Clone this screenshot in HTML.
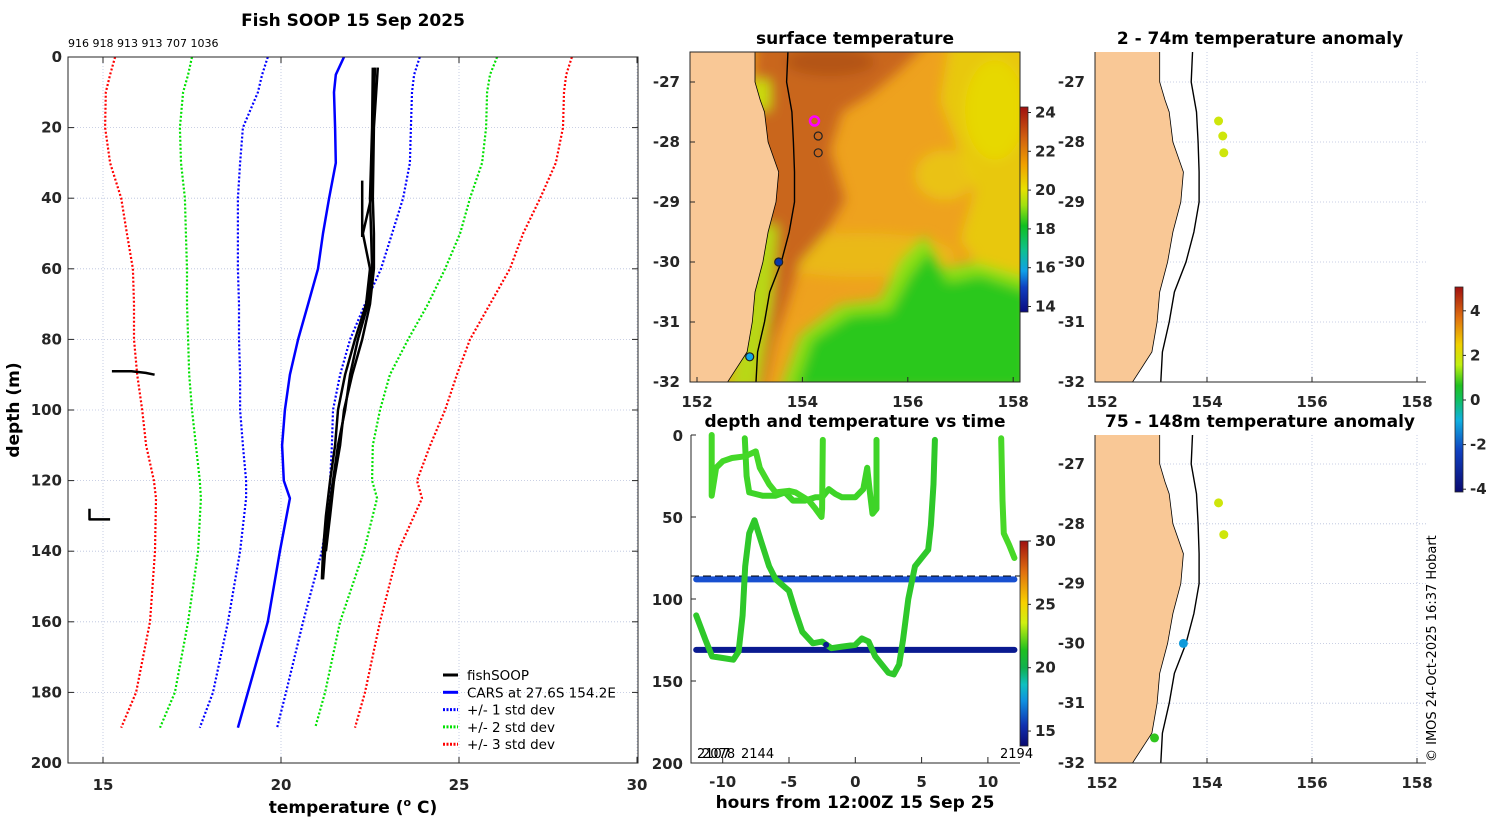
<!DOCTYPE html>
<html><head><meta charset="utf-8">
<style>
html,body{margin:0;padding:0;background:#fff;}
svg{display:block;font-family:"DejaVu Sans","Liberation Sans",sans-serif;}
.tk{font-size:15px;font-weight:bold;fill:#262626;}
.ttl{font-size:17px;font-weight:bold;fill:#000;}
</style></head>
<body>
<svg id="fig" width="1500" height="820" viewBox="0 0 1500 820" xmlns="http://www.w3.org/2000/svg">
<defs>
 <filter id="blur6" x="-20%" y="-20%" width="140%" height="140%"><feGaussianBlur stdDeviation="6"/></filter>
 <clipPath id="c1"><rect x="690" y="52" width="330" height="330"/></clipPath>
 <clipPath id="c2"><rect x="1095" y="52" width="331" height="330"/></clipPath>
 <clipPath id="c3"><rect x="1095" y="435" width="331" height="328"/></clipPath>
 <clipPath id="cm"><rect x="68" y="57" width="570" height="706"/></clipPath>
 <linearGradient id="gsst" x1="0" y1="1" x2="0" y2="0">
  <stop offset="0" stop-color="#0a0a80"/><stop offset="0.12" stop-color="#1040c0"/><stop offset="0.2" stop-color="#10a0e8"/>
  <stop offset="0.3" stop-color="#10c090"/><stop offset="0.42" stop-color="#10c020"/><stop offset="0.52" stop-color="#a0e010"/>
  <stop offset="0.6" stop-color="#e8e000"/><stop offset="0.72" stop-color="#f0a000"/><stop offset="0.85" stop-color="#d06010"/><stop offset="1" stop-color="#a01010"/>
 </linearGradient>
 <linearGradient id="gtime" x1="0" y1="1" x2="0" y2="0">
  <stop offset="0" stop-color="#0a0a70"/><stop offset="0.1" stop-color="#1030b0"/><stop offset="0.22" stop-color="#1090e0"/>
  <stop offset="0.3" stop-color="#10c0c0"/><stop offset="0.38" stop-color="#10b050"/><stop offset="0.47" stop-color="#20c020"/>
  <stop offset="0.6" stop-color="#d0f010"/><stop offset="0.7" stop-color="#f8d000"/><stop offset="0.85" stop-color="#e07010"/><stop offset="1" stop-color="#a01010"/>
 </linearGradient>
 <linearGradient id="ganom" x1="0" y1="1" x2="0" y2="0">
  <stop offset="0" stop-color="#0a0a70"/><stop offset="0.2" stop-color="#1040c0"/><stop offset="0.35" stop-color="#10b0e0"/>
  <stop offset="0.45" stop-color="#10c060"/><stop offset="0.52" stop-color="#20c020"/><stop offset="0.62" stop-color="#c0f010"/>
  <stop offset="0.72" stop-color="#f0d000"/><stop offset="0.85" stop-color="#e07010"/><stop offset="1" stop-color="#a01010"/>
 </linearGradient>
</defs>

<text class="ttl" x="353" y="26" text-anchor="middle">Fish SOOP 15 Sep 2025</text>
<text x="68" y="47" font-size="11" fill="#000">916 918 913 913 707 1036</text>
<text class="ttl" x="855" y="44" text-anchor="middle">surface temperature</text>
<text class="ttl" x="1260" y="44" text-anchor="middle">2 - 74m temperature anomaly</text>
<text class="ttl" x="855" y="427" text-anchor="middle">depth and temperature vs time</text>
<text class="ttl" x="1260" y="427" text-anchor="middle">75 - 148m temperature anomaly</text>
<text class="ttl" x="353" y="813" text-anchor="middle">temperature (<tspan font-size="11" dy="-7">o</tspan><tspan dy="7"> C)</tspan></text>
<text class="ttl" transform="translate(19,410) rotate(-90)" text-anchor="middle">depth (m)</text>
<text class="ttl" x="855" y="808" text-anchor="middle">hours from 12:00Z 15 Sep 25</text>
<text transform="translate(1436,762) rotate(-90)" font-size="13" fill="#000">© IMOS 24-Oct-2025 16:37 Hobart</text>

<g id="main"></g>
<g id="sst">
 <g clip-path="url(#c1)">
  <rect x="690" y="52" width="330" height="330" fill="#eea21e"/>
  <g filter="url(#blur6)">
   <polygon points="950,40 1030,40 1030,300 990,280 960,240 975,190 955,140 940,100" fill="#e8c810"/>
   <ellipse cx="995" cy="110" rx="30" ry="50" fill="#e6dc00" opacity="0.8"/>
   <ellipse cx="945" cy="175" rx="30" ry="25" fill="#e8d010" opacity="0.7"/>
   <ellipse cx="860" cy="255" rx="95" ry="22" fill="#e8c810" opacity="0.6"/>
   <polygon points="756,40 930,40 900,70 870,95 842,112 830,150 845,200 826,232 800,262 788,302 774,342 764,390 740,390" fill="#c9661c"/>
   <ellipse cx="830" cy="62" rx="45" ry="14" fill="#b45416"/>
   <polygon points="780,390 800,335 840,305 880,300 900,260 925,235 942,268 975,262 1030,278 1030,390" fill="#8ee014"/>
   <polygon points="795,390 812,340 850,315 890,312 910,275 930,250 948,282 980,275 1030,292 1030,390" fill="#2ac81e"/>
   <polygon points="752,225 778,225 772,300 758,390 728,390 748,300" fill="#b8d814"/>
   <polygon points="752,80 770,80 770,110 752,110" fill="#c8e010"/>
  </g>
  <polygon id="land1" fill="#f9c896" stroke="#000" stroke-width="0.8"/>
  <polyline id="shelf1" fill="none" stroke="#000" stroke-width="1.4"/>
 </g>
 <g id="sstpts"></g>
 <rect x="690" y="52" width="330" height="330" fill="none" stroke="#262626" stroke-width="1"/>
</g>
<g id="map2"></g>
<g id="map3"></g>
<g id="time"></g>
<g id="cbars"></g>
</svg>

<script>
const depthLevels = [0,5,10,20,30,40,50,60,70,80,90,100,110,120,125,140,160,180,190];
const redLo   = [15.34,15.20,15.08,15.06,15.20,15.51,15.67,15.84,15.87,15.87,15.96,16.10,16.21,16.43,16.49,16.46,16.32,15.93,15.51];
const greenLo = [17.50,17.39,17.25,17.16,17.19,17.30,17.33,17.36,17.36,17.39,17.42,17.50,17.61,17.72,17.75,17.67,17.39,17.02,16.60];
const blueLo  = [19.63,19.47,19.35,18.93,18.85,18.79,18.79,18.79,18.82,18.82,18.85,18.85,18.93,19.02,19.02,18.85,18.51,18.09,17.72];
const carsMean= [21.77,21.54,21.49,21.52,21.54,21.35,21.18,21.04,20.76,20.48,20.25,20.11,20.03,20.08,20.25,19.97,19.63,19.07,18.79];
const blueHi  = [23.90,23.74,23.68,23.65,23.62,23.43,23.12,22.81,22.36,21.94,21.66,21.46,21.43,21.38,21.38,21.15,20.62,20.14,19.89];
const greenHi = [26.07,25.87,25.79,25.76,25.65,25.31,25.03,24.61,24.13,23.57,23.06,22.78,22.58,22.56,22.70,22.33,21.66,21.24,20.96];
const redHi   = [28.17,28.01,27.95,27.92,27.72,27.28,26.80,26.43,25.87,25.31,24.94,24.61,24.19,23.82,23.96,23.29,22.78,22.36,22.08];
const fishDepths = [3,20,40,50,60,70,80,90,100,110,120,130,140,148];
const fishCast1 = [22.58,22.56,22.50,22.53,22.56,22.44,22.16,21.94,21.80,21.60,21.46,21.32,21.24,21.18];
const fishCast2 = [22.64,22.58,22.53,22.30,22.50,22.39,22.08,21.80,21.60,21.52,21.38,21.26,21.18,21.15];
const fishCast3 = [22.72,22.61,22.58,22.61,22.61,22.50,22.28,22.00,21.77,21.66,21.49,21.38,21.26];
const fishCast4Depth = [35,51];
const fishCast4 = [22.28,22.28];
const fishSeg1Depth = [89,89,89.5,90];
const fishSeg1 = [15.25,15.8,16.2,16.45];
const fishSeg2Depth = [128,131,131];
const fishSeg2 = [14.62,14.62,15.2];
const tempTicks = [15,20,25,30];
const depthTicks = [0,20,40,60,80,100,120,140,160,180,200];

const coastLat = [-26.4,-27,-27.3,-27.5,-28,-28.5,-29,-29.5,-30,-30.5,-31,-31.5,-32,-32.1];
const coastLon = [153.10,153.10,153.20,153.28,153.35,153.55,153.50,153.35,153.25,153.10,153.05,152.95,152.58,152.55];
const shelfLat = [-26.4,-27,-27.5,-28,-28.5,-29,-29.5,-30,-30.5,-31,-31.5,-32,-32.1];
const shelfLon = [153.73,153.70,153.80,153.83,153.85,153.85,153.75,153.60,153.38,153.28,153.15,153.12,153.12];
const lonTicks = [152,154,156,158];
const latTicks = [-27,-28,-29,-30,-31,-32];
const sstPtLon = [154.23,154.30,154.30,153.55,153.00];
const sstPtLat = [-27.65,-27.90,-28.18,-30.00,-31.58];
const sstPtFill = ['none','none','none','#0838a8','#10a8e8'];
const sstPtStroke = ['#ff00ff','#222','#222','#222','#222'];
const shallowLon = [154.22,154.30,154.32];
const shallowLat = [-27.65,-27.90,-28.18];
const shallowAnom = [1.3,1.3,1.3];
const deepLon = [154.22,154.32,153.55,153.00];
const deepLat = [-27.65,-28.18,-30.00,-31.58];
const deepAnom = [1.3,1.3,-1.2,0.1];

const trace1Hours = [-10.83,-10.83,-10.5,-10,-9.3,-8.3,-7.5,-7.2,-6.5,-6,-5,-4.5,-3.5,-3,-2.55,-2.5,-2.45];
const trace1Depth = [0,37,20,16,14,13,10,20,30,35,34,35,40,45,50,45,3];
const trace2Hours = [-8.33,-8.2,-8,-7,-6,-5.3,-4.7,-3.8,-3,-2.5,-2,-1.5,-1,0,0.6,0.9,1.1,1.3,1.6,1.6];
const trace2Depth = [2,25,35,37,37,35,40,40,38,38,33,36,38,38,33,20,35,48,45,3];
const trace3Hours = [-12,-11.3,-10.8,-10,-9.2,-8.8,-8.5,-8.3,-8,-7.6,-7.1,-6.5,-6,-5,-4.5,-4,-3.2,-2.5,-1.8,-1,0,0.5,1,1.5,2.5,2.9,3.3,3.6,4,4.5,5,5.5,5.7,5.9,6];
const trace3Depth = [110,125,135,136,137,132,110,80,60,52,65,80,88,95,108,120,127,126,130,129,128,124,126,135,145,146,140,125,100,80,75,70,55,30,3];
const trace4Hours = [11.0,11.1,11.2,11.6,12];
const trace4Depth = [2,40,60,67,75];
const mooringDepths = [88,131];
const mooringColors = ['#1850d0','#0a1a90'];
const hourTicks = [-10,-5,0,5,10];
const timeDepthTicks = [0,50,100,150,200];

const NS='http://www.w3.org/2000/svg';
function mk(tag, attrs, parent){const e=document.createElementNS(NS,tag);for(const k in attrs)e.setAttribute(k,attrs[k]);parent.appendChild(e);return e;}
function txt(parent,x,y,s,cls,anchor){const t=mk('text',{x:x,y:y,'class':cls||'tk','text-anchor':anchor||'middle'},parent);t.textContent=s;return t;}

const M = document.getElementById('main');
const px = t => 67.4 + (t-14)*35.6;
const py = d => 57 + d*3.53;
for(const t of tempTicks){
  const g=mk('line',{x1:px(t),x2:px(t),y1:57,y2:763,stroke:'#b8c0dc','stroke-width':0.8,'stroke-dasharray':'1,2'},M);
  
  
  const lb=txt(M,px(t),790,String(t));
  
  
  mk('line',{x1:px(t),x2:px(t),y1:763,y2:757,stroke:'#262626'},M);
  mk('line',{x1:px(t),x2:px(t),y1:57,y2:63,stroke:'#262626'},M);
}
for(const d of depthTicks){
  const g=mk('line',{x1:68,x2:638,y1:py(d),y2:py(d),stroke:'#b8c0dc','stroke-width':0.8,'stroke-dasharray':'1,2'},M);
  
  
  const lb=txt(M,62,py(d)+5,String(d),'tk','end');
  
  
  mk('line',{x1:68,x2:74,y1:py(d),y2:py(d),stroke:'#262626'},M);
  mk('line',{x1:638,x2:632,y1:py(d),y2:py(d),stroke:'#262626'},M);
}
const cm = mk('g',{'clip-path':'url(#cm)'},M);
function prof(temps, depths, color, w, dash, name){
  const pts=temps.map((t,i)=>px(t).toFixed(1)+','+py(depths[i]).toFixed(1)).join(' ');
  const p=mk('polyline',{points:pts,fill:'none',stroke:color,'stroke-width':w,'stroke-linejoin':'round'},cm);
  if(dash) p.setAttribute('stroke-dasharray',dash);
  
  
}
prof(redLo,depthLevels,'#ff0000',2.2,'2,2','minus-3-std-line');
prof(greenLo,depthLevels,'#00e000',2.2,'2,2','minus-2-std-line');
prof(blueLo,depthLevels,'#0000ff',2.2,'2,2','minus-1-std-line');
prof(carsMean,depthLevels,'#0000ff',2.5,null,'cars-mean-line');
prof(blueHi,depthLevels,'#0000ff',2.2,'2,2','plus-1-std-line');
prof(greenHi,depthLevels,'#00e000',2.2,'2,2','plus-2-std-line');
prof(redHi,depthLevels,'#ff0000',2.2,'2,2','plus-3-std-line');
prof(fishCast1,fishDepths,'#000',2.5,null,'fishsoop-cast-1');
prof(fishCast2,fishDepths,'#000',2.5,null,'fishsoop-cast-2');
prof(fishCast3,fishDepths.slice(0,fishCast3.length),'#000',2.5,null,'fishsoop-cast-3');
prof(fishCast4,fishCast4Depth,'#000',2.5,null,'fishsoop-cast-4');
prof(fishSeg1,fishSeg1Depth,'#000',2.5,null,'fishsoop-segment-1');
prof(fishSeg2,fishSeg2Depth,'#000',2.5,null,'fishsoop-segment-2');
mk('rect',{x:68,y:57,width:570,height:706,fill:'none',stroke:'#262626','stroke-width':1},M);
const legItems=[['fishSOOP','#000',null,3],['CARS at 27.6S 154.2E','#0000ff',null,3],['+/- 1 std dev','#0000ff','2,1.5',3],['+/- 2 std dev','#00e000','2,1.5',3],['+/- 3 std dev','#ff0000','2,1.5',3]];
const legG=mk('g',{},M);


legItems.forEach((it,i)=>{
  const y=675+i*17.3;
  const l=mk('line',{x1:443,x2:458,y1:y,y2:y,stroke:it[1],'stroke-width':it[3]},legG);
  if(it[2]) l.setAttribute('stroke-dasharray',it[2]);
  const t=mk('text',{x:467,y:y+5,'font-size':'13.5',fill:'#000'},legG);
  t.textContent=it[0];
  
  
});

function mapAxes(G, x0, lonX, latY, yTop, yBot, grid){
  for(const lon of lonTicks){
    const x=lonX(lon);
    if(grid){const g=mk('line',{x1:x,x2:x,y1:yTop,y2:yBot,stroke:'#b8c0dc','stroke-width':0.8,'stroke-dasharray':'1,2'},G);
      
      }
    mk('line',{x1:x,x2:x,y1:yBot,y2:yBot-5,stroke:'#262626'},G);
    const lb=txt(G,x,yBot+25,String(lon));
    
    
  }
  for(const lat of latTicks){
    const y=latY(lat);
    if(grid){const g=mk('line',{x1:x0,x2:x0+331,y1:y,y2:y,stroke:'#b8c0dc','stroke-width':0.8,'stroke-dasharray':'1,2'},G);
      
      }
    mk('line',{x1:x0,x2:x0+5,y1:y,y2:y,stroke:'#262626'},G);
    const lb=txt(G,x0-10,y+5,String(lat),'tk','end');
    
    
  }
}
function coastPts(lonX,latY,x0,yTop,yBot){
  let s=x0+','+(yTop-10)+' ';
  s+=coastLon.map((l,i)=>lonX(l).toFixed(1)+','+latY(coastLat[i]).toFixed(1)).join(' ');
  s+=' '+x0+','+(yBot+10);
  return s;
}
function shelfPts(lonX,latY){return shelfLon.map((l,i)=>lonX(l).toFixed(1)+','+latY(shelfLat[i]).toFixed(1)).join(' ');}
function anomColor(a){
  const stops=[[-4,[10,10,112]],[-2,[16,64,192]],[-1,[16,176,224]],[-0.4,[16,192,96]],[0,[32,192,32]],[1,[192,240,16]],[2,[240,208,0]],[3.5,[224,112,16]],[5,[160,16,16]]];
  if(a<=stops[0][0])return 'rgb('+stops[0][1]+')';
  for(let i=1;i<stops.length;i++){if(a<=stops[i][0]){const f=(a-stops[i-1][0])/(stops[i][0]-stops[i-1][0]);const c=stops[i-1][1].map((v,k)=>Math.round(v+f*(stops[i][1][k]-v)));return 'rgb('+c+')';}}
  return 'rgb('+stops[stops.length-1][1]+')';
}
const lonX1 = l => 697 + (l-152)*52.7;
const latY1 = la => 82 + (-27-la)*60;
document.getElementById('land1').setAttribute('points',coastPts(lonX1,latY1,688,52,382));
document.getElementById('shelf1').setAttribute('points',shelfPts(lonX1,latY1));
const S=document.getElementById('sst');
mapAxes(S,690,lonX1,latY1,52,382,false);
const SP=document.getElementById('sstpts');
sstPtLon.forEach((l,i)=>{
  const c=mk('circle',{cx:lonX1(l),cy:latY1(sstPtLat[i]),r:i===0?4.5:4,fill:sstPtFill[i],stroke:sstPtStroke[i],'stroke-width':i===0?2.5:1.2},SP);
  
  
});
function anomMap(id,clip,yTop,yBot,latY,lons,lats,vals){
  const G=document.getElementById(id);
  const lonX = l => 1102 + (l-152)*52.5;
  mapAxes(G,1095,lonX,latY,yTop,yBot,true);
  const cg=mk('g',{'clip-path':'url(#'+clip+')'},G);
  const land=mk('polygon',{points:coastPts(lonX,latY,1093,yTop,yBot),fill:'#f9c896',stroke:'#000','stroke-width':0.8},cg);
  
  
  const sh=mk('polyline',{points:shelfPts(lonX,latY),fill:'none',stroke:'#000','stroke-width':1.4},cg);
  
  
  lons.forEach((l,i)=>{
    const c=mk('circle',{cx:lonX(l),cy:latY(lats[i]),r:4.5,fill:anomColor(vals[i])},G);
    
    
  });
  mk('polyline',{points:'1095,'+yTop+' 1095,'+yBot+' 1426,'+yBot,fill:'none',stroke:'#262626'},G);
}
anomMap('map2','c2',52,382,la=>82+(-27-la)*60,shallowLon,shallowLat,shallowAnom);
anomMap('map3','c3',435,763,la=>464+(-27-la)*59.8,deepLon,deepLat,deepAnom);

const T=document.getElementById('time');
const hx = h => 855.3 + h*13.26;
const dy = d => 435 + d*1.64;
for(const h of hourTicks){
  mk('line',{x1:hx(h),x2:hx(h),y1:763,y2:757,stroke:'#262626'},T);
  const lb=txt(T,hx(h),787,String(h));
  
  
}
for(const d of timeDepthTicks){
  mk('line',{x1:691,x2:696,y1:dy(d),y2:dy(d),stroke:'#262626'},T);
  const lb=txt(T,683,dy(d)+6,String(d),'tk','end');
  
  
}
mooringDepths.forEach((d,i)=>{
  const l=mk('line',{x1:hx(-12),x2:hx(12),y1:dy(d),y2:dy(d),stroke:mooringColors[i],'stroke-width':6,'stroke-linecap':'round'},T);
  
  
});
const dl=mk('line',{x1:691,x2:1020,y1:dy(86),y2:dy(86),stroke:'#000','stroke-width':1,'stroke-dasharray':'8,4'},T);


function trace(hs,ds,color,name){
  const pts=hs.map((h,i)=>hx(h).toFixed(1)+','+dy(ds[i]).toFixed(1)).join(' ');
  const p=mk('polyline',{points:pts,fill:'none',stroke:color,'stroke-width':6,'stroke-linejoin':'round','stroke-linecap':'round'},T);
  
  
}
trace(trace3Hours,trace3Depth,'#2ec82a','dive-trace-3');
trace(trace2Hours,trace2Depth,'#3ed428','dive-trace-2');
trace(trace1Hours,trace1Depth,'#44d828','dive-trace-1');
trace(trace4Hours,trace4Depth,'#48d828','dive-trace-4');
mk('circle',{cx:hx(-2.2),cy:dy(128),r:3,fill:'#0a1a90'},T);
mk('polyline',{points:'691,435 691,763 1020,763',fill:'none',stroke:'#262626'},T);
const n1=mk('text',{x:697,y:758,'font-size':'13',fill:'#000'},T); n1.textContent='2107';


const n2=mk('text',{x:702,y:758,'font-size':'13',fill:'#000'},T); n2.textContent='2078';


const n3=mk('text',{x:741,y:758,'font-size':'13',fill:'#000'},T); n3.textContent='2144';


const n4=mk('text',{x:1000,y:758,'font-size':'13',fill:'#000'},T); n4.textContent='2194';



const C=document.getElementById('cbars');
function cbar(x,y0,y1,grad,ticks,val2y,name){
  const r=mk('rect',{x:x,y:y0,width:8,height:y1-y0,fill:'url(#'+grad+')',stroke:'#262626','stroke-width':0.8},C);
  
  
  for(const t of ticks){
    const y=val2y(t);
    mk('line',{x1:x+8,x2:x+11,y1:y,y2:y,stroke:'#262626'},C);
    const lb=txt(C,x+15,y+5,String(t),'tk','start');
    lb.setAttribute('font-size','13');
    
    
  }
}
cbar(1020,107,312,'gsst',[24,22,20,18,16,14],v=>112.5+(24-v)*19.4,'sst-colorbar');
cbar(1020,541,746,'gtime',[30,25,20,15],v=>541+(30-v)*12.67,'time-colorbar');
cbar(1455,287,492,'ganom',[4,2,0,-2,-4],v=>400-v*22.3,'anomaly-colorbar');
</script>
</body></html>
